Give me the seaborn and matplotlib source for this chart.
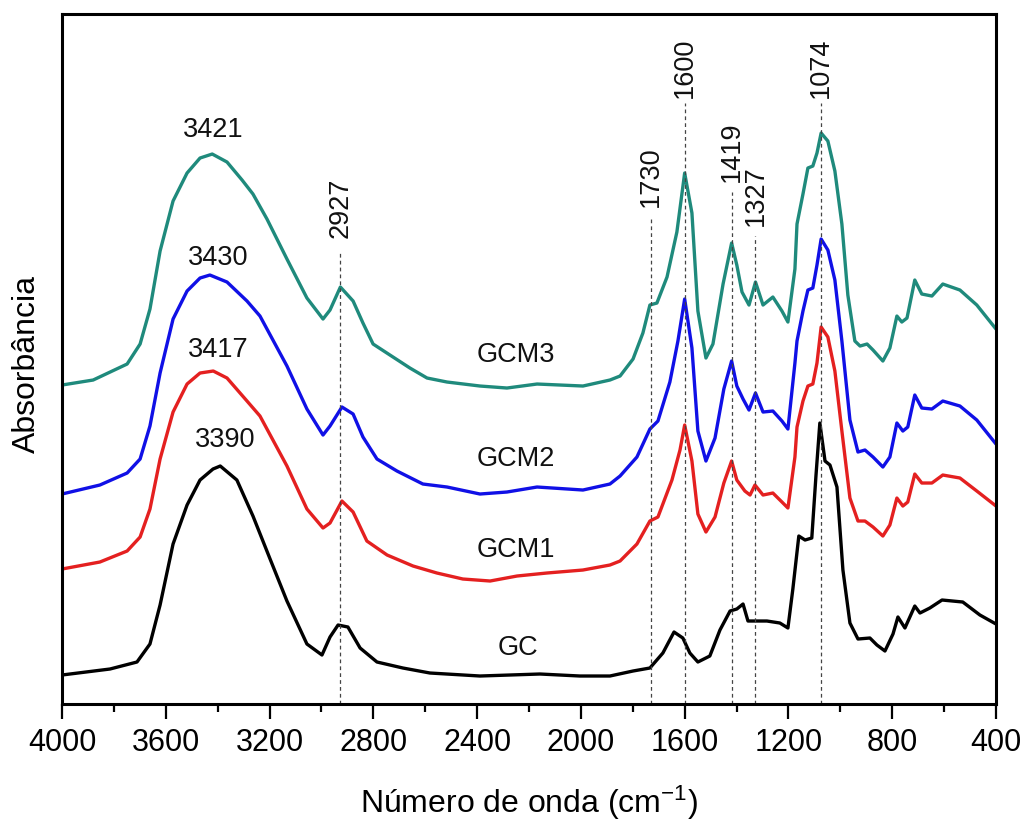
import matplotlib
matplotlib.use("Agg")
import matplotlib.pyplot as plt
import seaborn as sns
from matplotlib.ticker import MultipleLocator

# ---------------------------------------------------------------
# FTIR spectra (wavenumber in cm-1, absorbance in a.u.)
# ---------------------------------------------------------------
wn_gcm3 = [4000, 3880, 3749, 3699, 3661, 3622, 3572, 3518, 3468, 3421, 3364, 3306,
           3264, 3210, 3133, 3056, 2994, 2967, 2927, 2878, 2840, 2801, 2736, 2659,
           2593, 2516, 2389, 2285, 2169, 1992, 1888, 1849, 1799, 1761, 1734, 1707,
           1668, 1630, 1600, 1572, 1549, 1518, 1491, 1452, 1419, 1399, 1379, 1352,
           1327, 1298, 1260, 1225, 1202, 1175, 1167, 1144, 1125, 1106, 1090, 1074,
           1048, 1021, 994, 971, 944, 924, 897, 874, 836, 809, 782, 763, 743, 713,
           686, 647, 605, 539, 474, 400]
ab_gcm3 = [3.19, 3.24, 3.40, 3.60, 3.95, 4.53, 5.03, 5.31, 5.46, 5.50, 5.42, 5.24,
           5.10, 4.85, 4.45, 4.06, 3.85, 3.94, 4.17, 4.03, 3.81, 3.60, 3.49, 3.36,
           3.26, 3.22, 3.18, 3.16, 3.20, 3.18, 3.24, 3.28, 3.45, 3.71, 3.99, 4.01,
           4.27, 4.72, 5.31, 4.91, 3.93, 3.46, 3.60, 4.20, 4.61, 4.39, 4.12, 3.99,
           4.22, 3.99, 4.07, 3.93, 3.82, 4.35, 4.80, 5.10, 5.36, 5.38, 5.51, 5.71,
           5.63, 5.33, 4.80, 4.09, 3.63, 3.58, 3.60, 3.54, 3.43, 3.56, 3.88, 3.82,
           3.86, 4.24, 4.10, 4.08, 4.20, 4.14, 3.99, 3.75]

wn_gcm2 = [4000, 3854, 3749, 3699, 3661, 3622, 3572, 3518, 3468, 3430, 3364, 3287,
           3237, 3133, 3056, 2994, 2967, 2921, 2878, 2840, 2786, 2709, 2609, 2516,
           2389, 2285, 2169, 1992, 1888, 1849, 1784, 1734, 1703, 1657, 1626, 1600,
           1572, 1549, 1518, 1483, 1449, 1419, 1399, 1375, 1352, 1327, 1298, 1260,
           1225, 1202, 1175, 1167, 1144, 1125, 1106, 1090, 1074, 1048, 1021, 994,
           963, 932, 905, 874, 836, 809, 782, 759, 740, 713, 686, 647, 605, 539,
           474, 400]
ab_gcm2 = [2.10, 2.19, 2.31, 2.45, 2.78, 3.31, 3.85, 4.13, 4.26, 4.29, 4.22, 4.03,
           3.88, 3.38, 2.95, 2.69, 2.78, 2.97, 2.90, 2.67, 2.45, 2.33, 2.20, 2.17,
           2.10, 2.12, 2.17, 2.14, 2.20, 2.28, 2.47, 2.75, 2.83, 3.22, 3.63, 4.05,
           3.56, 2.73, 2.43, 2.66, 3.15, 3.43, 3.18, 3.05, 2.94, 3.11, 2.92, 2.93,
           2.83, 2.75, 3.41, 3.63, 3.93, 4.14, 4.16, 4.39, 4.65, 4.54, 4.24, 3.63,
           2.84, 2.52, 2.54, 2.47, 2.37, 2.47, 2.81, 2.73, 2.77, 3.09, 2.96, 2.95,
           3.03, 2.98, 2.84, 2.60]

wn_gcm1 = [4000, 3854, 3749, 3699, 3661, 3622, 3572, 3518, 3468, 3417, 3364, 3287,
           3237, 3133, 3056, 2994, 2967, 2921, 2878, 2825, 2747, 2647, 2555, 2455,
           2350, 2246, 2131, 1992, 1888, 1849, 1784, 1734, 1703, 1649, 1618, 1600,
           1572, 1549, 1518, 1483, 1449, 1419, 1399, 1368, 1348, 1329, 1298, 1260,
           1225, 1202, 1175, 1167, 1144, 1125, 1106, 1090, 1074, 1048, 1021, 994,
           963, 932, 905, 874, 836, 809, 782, 759, 740, 713, 686, 647, 605, 539,
           474, 400]
ab_gcm1 = [1.35, 1.42, 1.53, 1.67, 1.95, 2.45, 2.92, 3.20, 3.31, 3.33, 3.26, 3.03,
           2.88, 2.38, 1.95, 1.76, 1.81, 2.03, 1.92, 1.63, 1.49, 1.38, 1.31, 1.25,
           1.23, 1.28, 1.31, 1.34, 1.39, 1.43, 1.60, 1.83, 1.87, 2.24, 2.54, 2.79,
           2.43, 1.90, 1.72, 1.87, 2.21, 2.43, 2.24, 2.13, 2.09, 2.19, 2.09, 2.11,
           2.02, 1.96, 2.47, 2.77, 3.03, 3.18, 3.20, 3.41, 3.77, 3.67, 3.33, 2.73,
           2.06, 1.83, 1.83, 1.77, 1.68, 1.79, 2.06, 1.98, 2.02, 2.30, 2.21, 2.21,
           2.29, 2.26, 2.13, 1.98]

wn_gc = [4000, 3815, 3711, 3661, 3622, 3572, 3518, 3468, 3418, 3390, 3326, 3264,
         3198, 3133, 3056, 2998, 2967, 2936, 2898, 2851, 2786, 2686, 2582, 2389,
         2158, 2004, 1888, 1799, 1734, 1684, 1641, 1607, 1580, 1549, 1503, 1464,
         1425, 1399, 1375, 1356, 1321, 1283, 1233, 1202, 1183, 1160, 1136, 1110,
         1094, 1079, 1059, 1040, 1013, 990, 963, 932, 886, 859, 828, 797, 778,
         751, 713, 693, 655, 608, 528, 462, 400]
ab_gc = [0.29, 0.35, 0.42, 0.60, 0.99, 1.60, 1.99, 2.24, 2.35, 2.38, 2.24, 1.88,
         1.45, 1.03, 0.60, 0.49, 0.67, 0.79, 0.77, 0.56, 0.42, 0.36, 0.31, 0.28,
         0.30, 0.28, 0.28, 0.33, 0.36, 0.51, 0.72, 0.66, 0.51, 0.42, 0.48, 0.74,
         0.93, 0.95, 1.00, 0.83, 0.83, 0.83, 0.81, 0.76, 1.15, 1.68, 1.64, 1.66,
         2.28, 2.81, 2.43, 2.39, 2.17, 1.34, 0.81, 0.65, 0.66, 0.59, 0.53, 0.70,
         0.87, 0.76, 0.98, 0.91, 0.96, 1.04, 1.02, 0.89, 0.80]

sample_names = ["GCM3", "GCM2", "GCM1", "GC"]
sample_colors = ["#1f8a7c", "#1010e6", "#e42020", "#000000"]
name_wn = [2250, 2250, 2250, 2243]
name_ab = [3.49, 2.45, 1.54, 0.56]

# OH band maxima labels
oh_text = ["3421", "3430", "3417", "3390"]
oh_wn = [3418, 3399, 3399, 3372]
oh_ab = [5.74, 4.46, 3.54, 2.64]

# marked bands (dashed guide lines)
band_wn = [2927, 1730, 1600, 1419, 1327, 1074]
band_line_top = [4.53, 4.88, 6.01, 5.12, 4.68, 6.01]
band_text_ab = [4.66, 4.97, 6.06, 5.22, 4.78, 6.06]

# ---------------------------------------------------------------
sns.set_theme(style="ticks")
plt.rcParams["font.family"] = ["Liberation Sans", "DejaVu Sans"]
plt.rcParams["mathtext.fontset"] = "custom"
plt.rcParams["mathtext.rm"] = "Liberation Sans"
plt.rcParams["mathtext.it"] = "Liberation Sans:italic"
plt.rcParams["text.color"] = "black"
plt.rcParams["axes.labelcolor"] = "black"
plt.rcParams["xtick.color"] = "black"

fig = plt.figure(figsize=(10.25, 8.21), dpi=100)
ax = fig.add_axes([0.0605, 0.1425, 0.9112, 0.8404])

spectra = [(wn_gcm3, ab_gcm3), (wn_gcm2, ab_gcm2), (wn_gcm1, ab_gcm1), (wn_gc, ab_gc)]
for (wn, ab), color in zip(spectra, sample_colors):
    sns.lineplot(x=wn, y=ab, ax=ax, color=color, lw=2.4, sort=False,
                 estimator=None)

# dashed guide lines + rotated band labels
ax.vlines(band_wn, 0, band_line_top, colors="#444444", lw=0.9,
          linestyles=(0, (3, 2.5)))
for wn, yt in zip(band_wn, band_text_ab):
    ax.text(wn, yt, str(wn), rotation=90, ha="center", va="bottom",
            fontsize=19.5, color="#111111")

for txt, x, y in zip(oh_text, oh_wn, oh_ab):
    ax.text(x, y, txt, ha="center", va="center", fontsize=19.5, color="#111111")

for name, x, y in zip(sample_names, name_wn, name_ab):
    ax.text(x, y, name, ha="center", va="center", fontsize=19.5, color="#111111")

ax.set_xlim(4000, 400)
ax.set_ylim(0, 6.90)
ax.xaxis.set_major_locator(MultipleLocator(400))
ax.xaxis.set_minor_locator(MultipleLocator(200))
ax.set_yticks([])
ax.tick_params(axis="x", which="major", direction="out", length=11, width=1.6,
               labelsize=22, pad=6, colors="black")
ax.tick_params(axis="x", which="minor", direction="out", length=6, width=1.6,
               colors="black")

for side in ["top", "bottom", "left", "right"]:
    ax.spines[side].set_visible(True)
    ax.spines[side].set_linewidth(2.2)
    ax.spines[side].set_color("black")

ax.set_xlabel("Número de onda (cm$^{-1}$)", fontsize=23, color="black")
ax.set_ylabel("Absorbância", fontsize=23, color="black")
ax.xaxis.set_label_coords(0.5, -0.115)
ax.yaxis.set_label_coords(-0.022, 0.493)

fig.savefig("out.png", dpi=100, facecolor="white")
plt.close(fig)
